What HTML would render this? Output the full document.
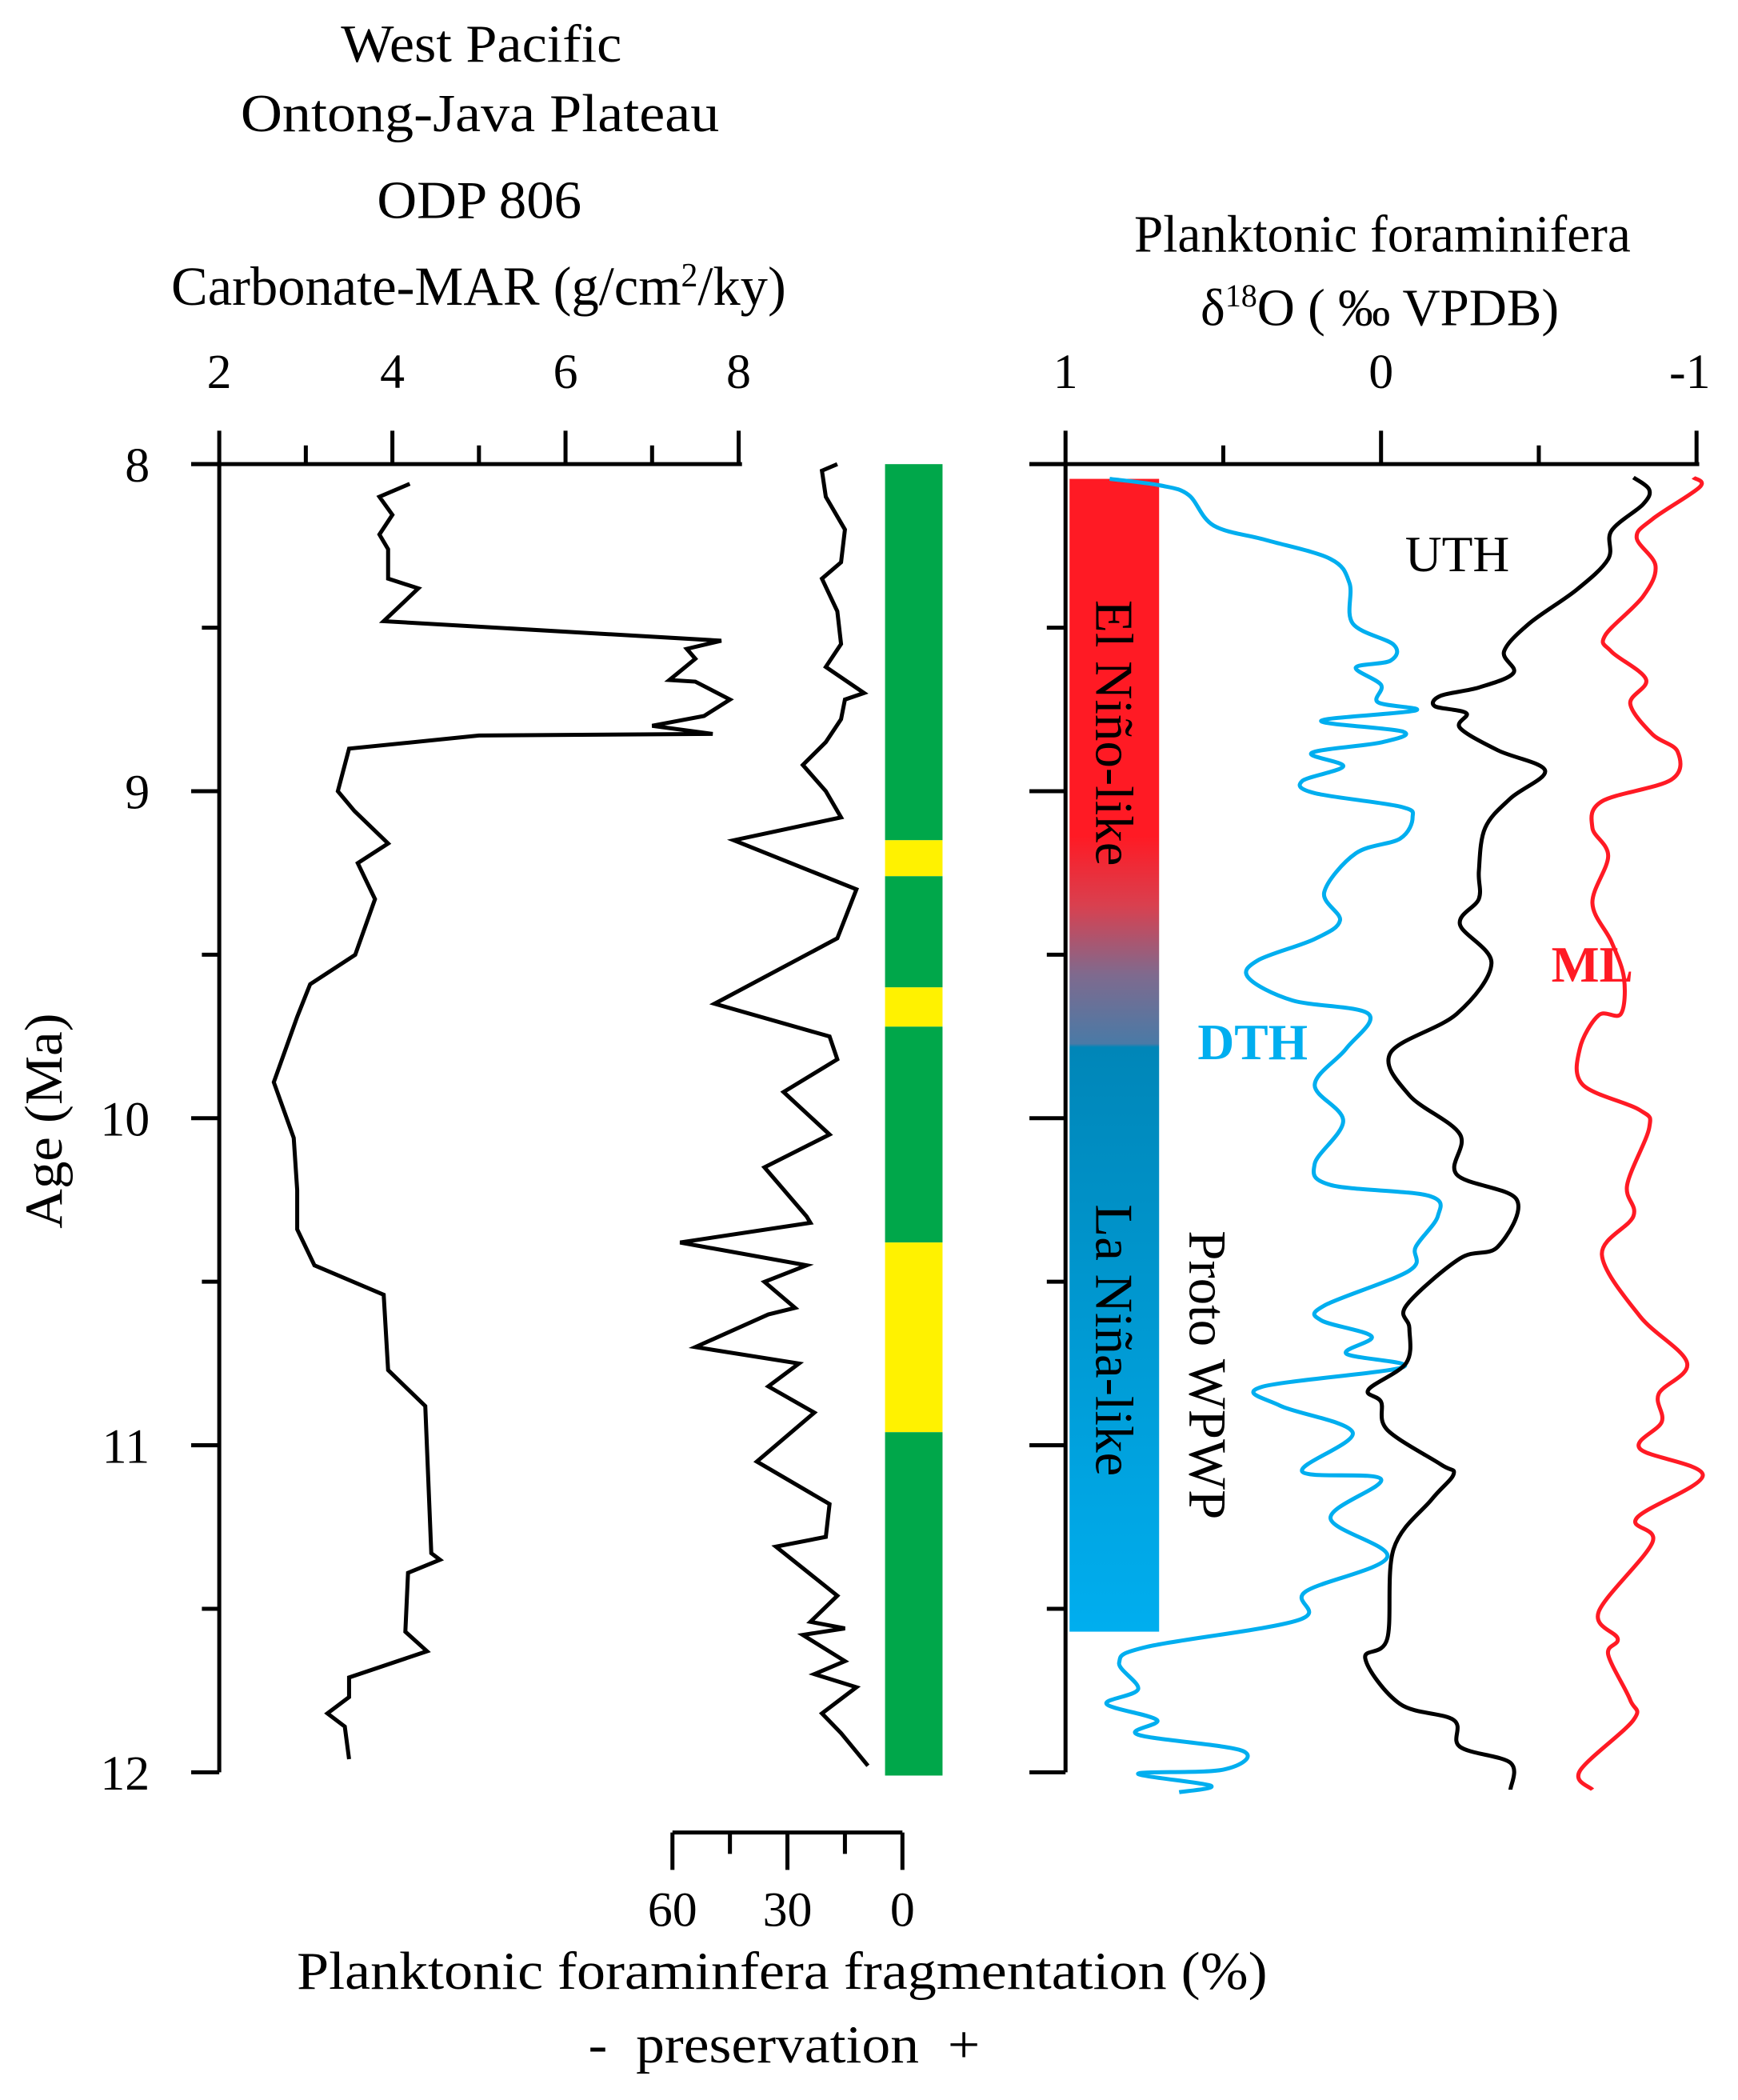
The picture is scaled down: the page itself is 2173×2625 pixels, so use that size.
<!DOCTYPE html>
<html><head><meta charset="utf-8">
<style>
html,body{margin:0;padding:0;background:#fff;}
svg{display:block;}
text{font-family:"Liberation Serif",serif;}
</style></head>
<body>
<svg id="chart" xmlns="http://www.w3.org/2000/svg" width="2173" height="2625" viewBox="0 0 1300 1570" preserveAspectRatio="none">
<defs>
<linearGradient id="enso" x1="0" y1="0" x2="0" y2="1">
<stop offset="0" stop-color="#ff1a24"/>
<stop offset="0.31" stop-color="#ff1a24"/>
<stop offset="0.37" stop-color="#d9404f"/>
<stop offset="0.43" stop-color="#7f6a8e"/>
<stop offset="0.49" stop-color="#4a7aa6"/>
<stop offset="0.493" stop-color="#0086b8"/>
<stop offset="1" stop-color="#00aeef"/>
</linearGradient>
</defs>
<g font-size="40" fill="#000">
<text x="255" y="46" textLength="210" lengthAdjust="spacingAndGlyphs">West Pacific</text>
<text x="180" y="98" textLength="358" lengthAdjust="spacingAndGlyphs">Ontong-Java Plateau</text>
<text x="282" y="163" textLength="153" lengthAdjust="spacingAndGlyphs">ODP 806</text>
<text x="358" y="228" text-anchor="middle" font-size="41">Carbonate-MAR (g/cm<tspan font-size="25" dy="-14">2</tspan><tspan dy="14">/ky)</tspan></text>
</g>
<g font-size="39" fill="#000" text-anchor="middle">
<text x="1034" y="188">Planktonic foraminifera</text>
<text x="1032" y="243">δ<tspan font-size="24" dy="-14">18</tspan><tspan dy="14">O ( ‰ VPDB)</tspan></text>
</g>
<text x="0" y="0" font-size="40" fill="#000" text-anchor="middle" textLength="161" lengthAdjust="spacingAndGlyphs" transform="translate(46,838) rotate(-90)">Age (Ma)</text>
<text x="222" y="1487" font-size="40" fill="#000" textLength="726" lengthAdjust="spacingAndGlyphs">Planktonic foraminfera fragmentation (%)</text>
<text x="440" y="1542" font-size="40" fill="#000" textLength="293" lengthAdjust="spacingAndGlyphs" xml:space="preserve">-  preservation  +</text>
<g id="g"></g>
</svg>
<script>
// ---- data ----
const ageTicks = [8, 9, 10, 11, 12];
const carbTicks = [2, 4, 6, 8];
const fragTicks = [60, 30, 0];
const d18Ticks = [1, 0, -1];

const carbAge = [8.06,8.10,8.155,8.215,8.26,8.35,8.38,8.48,8.54,8.565,8.595,8.66,8.665,8.72,8.77,8.80,8.825,8.83,8.87,9.0,9.06,9.16,9.22,9.33,9.5,9.59,9.69,9.89,10.06,10.22,10.34,10.45,10.54,10.77,10.88,11.33,11.35,11.39,11.57,11.63,11.71,11.77,11.82,11.86,11.96];
const carbVal = [4.2,3.85,4.0,3.85,3.95,3.95,4.3,3.9,7.8,7.4,7.5,7.2,7.5,7.9,7.6,7.0,7.7,5.0,3.5,3.37,3.56,3.95,3.6,3.8,3.57,3.05,2.9,2.63,2.86,2.9,2.9,3.1,3.9,3.95,4.38,4.45,4.55,4.18,4.15,4.4,3.5,3.5,3.25,3.45,3.5];

const fragAge = [8.0,8.02,8.1,8.2,8.3,8.35,8.45,8.55,8.62,8.7,8.72,8.78,8.85,8.92,9.0,9.08,9.15,9.3,9.45,9.65,9.75,9.82,9.92,10.05,10.15,10.3,10.32,10.38,10.45,10.5,10.58,10.6,10.7,10.75,10.82,10.9,11.05,11.18,11.28,11.31,11.46,11.54,11.56,11.58,11.66,11.7,11.74,11.82,11.88,11.98];
const fragVal = [17,21,20,15,16,21,17,16,20,10,15,16,20,26,20,16,44,12,17,49,19,17,31,19,36,25,24,58,25,36,28,35,54,27,35,23,38,19,20,33,17,24,15,26,15,23,12,21,16,9];

const presStart = [8.0, 9.15, 9.26, 9.6, 9.72, 10.38, 10.96];
const presEnd   = [9.15, 9.26, 9.6, 9.72, 10.38, 10.96, 12.01];
const presType  = ["good","poor","good","poor","good","poor","good"];

const dthAge = [8.045,8.065,8.094,8.188,8.233,8.29,8.364,8.487,8.552,8.601,8.622,8.675,8.728,8.753,8.785,8.818,8.851,8.883,8.924,8.969,9.006,9.047,9.08,9.145,9.19,9.309,9.395,9.452,9.517,9.571,9.64,9.681,9.787,9.898,10.008,10.139,10.204,10.237,10.299,10.393,10.466,10.573,10.618,10.667,10.72,10.761,10.822,10.879,10.961,11.08,11.104,11.223,11.342,11.448,11.534,11.616,11.665,11.746,11.791,11.84,11.885,11.934,11.992,12.004,12.041,12.061];
const dthVal = [0.86,0.70,0.61,0.53,0.36,0.16,0.10,0.09,-0.04,-0.03,0.08,0.00,0.01,-0.11,0.19,-0.07,0.00,0.22,0.12,0.25,0.21,-0.06,-0.10,-0.06,0.08,0.18,0.13,0.21,0.39,0.42,0.28,0.04,0.11,0.21,0.12,0.21,0.16,-0.15,-0.18,-0.11,-0.09,0.18,0.19,0.03,0.11,-0.07,0.38,0.32,0.09,0.25,0.00,0.16,-0.02,0.24,0.26,0.74,0.83,0.77,0.87,0.71,0.77,0.44,0.50,0.77,0.54,0.64];

const uthAge = [8.041,8.078,8.123,8.204,8.29,8.384,8.487,8.573,8.638,8.683,8.708,8.74,8.761,8.806,8.875,8.937,9.022,9.112,9.243,9.329,9.407,9.526,9.681,9.8,9.93,10.049,10.172,10.249,10.393,10.429,10.573,10.642,10.748,10.83,10.867,10.953,11.059,11.088,11.166,11.317,11.591,11.652,11.791,11.84,11.922,11.971,12.053];
const uthVal = [-0.80,-0.85,-0.83,-0.73,-0.72,-0.62,-0.47,-0.39,-0.42,-0.31,-0.19,-0.17,-0.27,-0.25,-0.37,-0.52,-0.41,-0.33,-0.31,-0.31,-0.25,-0.35,-0.24,-0.03,-0.09,-0.25,-0.24,-0.43,-0.37,-0.25,-0.08,-0.09,-0.08,0.04,0.00,-0.02,-0.19,-0.23,-0.16,-0.04,-0.02,0.05,-0.06,-0.23,-0.25,-0.41,-0.41];

const mlAge = [8.041,8.07,8.168,8.225,8.311,8.405,8.524,8.573,8.658,8.732,8.826,8.879,8.965,9.031,9.112,9.198,9.342,9.46,9.571,9.681,9.685,9.787,9.898,9.975,10.029,10.204,10.299,10.417,10.605,10.748,10.843,10.928,11.01,11.092,11.223,11.297,11.509,11.591,11.64,11.779,11.84,11.996,12.053];
const mlVal = [-0.99,-1.01,-0.86,-0.81,-0.87,-0.83,-0.71,-0.73,-0.84,-0.79,-0.86,-0.94,-0.92,-0.70,-0.67,-0.72,-0.67,-0.73,-0.77,-0.76,-0.69,-0.63,-0.64,-0.82,-0.85,-0.78,-0.80,-0.70,-0.82,-0.97,-0.88,-0.89,-0.82,-1.02,-0.81,-0.86,-0.69,-0.75,-0.72,-0.79,-0.80,-0.63,-0.67];

// ---- axes ----
const NS = "http://www.w3.org/2000/svg";
const G = document.getElementById("g");
const yA = a => 347 + (a - 8) * 244.5;
const xC = v => 164 + (v - 2) * 64.75;
const xF = f => 675 - f * 2.867;
const xD = v => 797 + (1 - v) * 236;

function mk(tag, attrs, parent) {
  const e = document.createElementNS(NS, tag);
  for (const k in attrs) e.setAttribute(k, attrs[k]);
  (parent || G).appendChild(e);
  return e;
}
function ln(x1, y1, x2, y2, w) {
  return mk("line", {x1, y1, x2, y2, stroke: "#000", "stroke-width": w || 2.5});
}
function txt(x, y, s, anchor, size, color) {
  const t = mk("text", {x, y, "font-size": size || 37, "text-anchor": anchor || "middle", fill: color || "#000"});
  t.textContent = s;
  return t;
}
function poly(xs, ys) {
  return xs.map((x, i) => (i ? "L" : "M") + x.toFixed(1) + "," + ys[i].toFixed(1)).join("");
}
function smooth(xs, ys) {
  let d = "M" + xs[0].toFixed(1) + "," + ys[0].toFixed(1);
  for (let i = 0; i < xs.length - 1; i++) {
    const x0 = xs[Math.max(0, i - 1)], y0 = ys[Math.max(0, i - 1)];
    const x1 = xs[i], y1 = ys[i], x2 = xs[i + 1], y2 = ys[i + 1];
    const x3 = xs[Math.min(xs.length - 1, i + 2)], y3 = ys[Math.min(xs.length - 1, i + 2)];
    d += "C" + (x1 + (x2 - x0) / 6).toFixed(1) + "," + (y1 + (y2 - y0) / 6).toFixed(1) + " " +
      (x2 - (x3 - x1) / 6).toFixed(1) + "," + (y2 - (y3 - y1) / 6).toFixed(1) + " " +
      x2.toFixed(1) + "," + y2.toFixed(1);
  }
  return d;
}

// left age axis
let e = ln(164, 347, 164, 1325, 3);


ageTicks.forEach(a => {
  const t = ln(143, yA(a), 164, yA(a), 3);
  
  
  const l = txt(112, yA(a) + 13, String(a), "end");
  
  
  if (a < 12) {
    const m = ln(151, yA(a + 0.5), 164, yA(a + 0.5), 3);
    
    
  }
});
// carbonate top axis
e = ln(143, 347, 555, 347, 3);


carbTicks.forEach(v => {
  const t = ln(xC(v), 322, xC(v), 347, 3);
  
  
  const l = txt(xC(v), 290, String(v));
  
  
  if (v < 8) {
    const m = ln(xC(v + 1), 333, xC(v + 1), 347, 3);
    
    
  }
});
// fragmentation bottom axis
e = ln(503, 1370, 675, 1370, 3);


[60, 45, 30, 15, 0].forEach(f => {
  const t = ln(xF(f), 1370, xF(f), (f % 30 === 0) ? 1398 : 1386, 3);
  
  
});
fragTicks.forEach(f => {
  const l = txt(xF(f), 1440, String(f));
  
  
});
// right axis
e = ln(797, 347, 797, 1325, 3);


ageTicks.forEach(a => {
  const t = ln(770, yA(a), 797, yA(a), 3);
  
  
  if (a < 12) {
    const m = ln(783, yA(a + 0.5), 797, yA(a + 0.5), 3);
    
    
  }
});
e = ln(770, 347, 1271, 347, 3);


d18Ticks.forEach(v => {
  const t = ln(xD(v), 322, xD(v), 347, 3);
  
  
  const l = txt(xD(v) - (v < 0 ? 5 : 0), 290, String(v));
  
  
});
[0.5, -0.5].forEach(v => {
  const m = ln(xD(v), 333, xD(v), 347, 3);
  
  
});

// preservation bar
presStart.forEach((s, i) => {
  const r = mk("rect", {x: 662, y: yA(s), width: 43, height: yA(presEnd[i]) - yA(s), fill: presType[i] === "good" ? "#00a74a" : "#fff200"});
  
  
});

// ENSO bar
e = mk("rect", {x: 800, y: yA(8.045), width: 67, height: yA(11.57) - yA(8.045), fill: "url(#enso)"});



// series
e = mk("path", {d: poly(carbVal.map(xC), carbAge.map(yA)), fill: "none", stroke: "#000", "stroke-width": 3});


e = mk("path", {d: poly(fragVal.map(xF), fragAge.map(yA)), fill: "none", stroke: "#000", "stroke-width": 3});


e = mk("path", {d: smooth(dthVal.map(xD), dthAge.map(yA)), fill: "none", stroke: "#00aeef", "stroke-width": 3});


e = mk("path", {d: smooth(uthVal.map(xD), uthAge.map(yA)), fill: "none", stroke: "#000", "stroke-width": 3});


e = mk("path", {d: smooth(mlVal.map(xD), mlAge.map(yA)), fill: "none", stroke: "#ff1a24", "stroke-width": 3});



// labels
e = txt(1090, 427, "UTH", "middle", 38);


e = txt(937, 792, "DTH", "middle", 38, "#00aeef");
e.setAttribute('font-weight', 'bold');


e = txt(1191, 734, "ML", "middle", 38, "#ff1a24");
e.setAttribute('font-weight', 'bold');


e = txt(0, 0, "El Niño-like", "middle", 40);
e.setAttribute('transform', 'translate(820,548) rotate(90)');


e = txt(0, 0, "La Niña-like", "middle", 40);
e.setAttribute('transform', 'translate(820,1002) rotate(90)');


e = txt(0, 0, "Proto  WPWP", "middle", 40);
e.setAttribute('transform', 'translate(890,1028) rotate(90)');


</script>
</body></html>
